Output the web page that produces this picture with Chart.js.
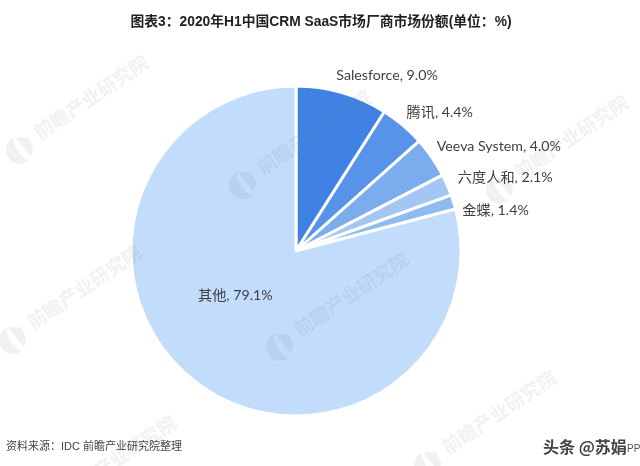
<!DOCTYPE html>
<html><head><meta charset="utf-8">
<style>html,body{margin:0;padding:0;background:#fff}#w{position:relative;width:640px;height:466px}canvas{display:block}</style>
<script src="https://cdn.jsdelivr.net/npm/chart.js@4"></script></head>
<body><div id="w"><canvas id="c" width="640" height="466"></canvas></div>
<script>
const vendors = ['Salesforce','腾讯','Veeva System','六度人和','金蝶','其他'];
const shares = [9.0,4.4,4.0,2.1,1.4,79.1];
const sliceColors = ['#3F82E3','#5793E8','#7BADEE','#A3C6F5','#8FBBF1','#C2DCFB'];
const chartTitle = '图表3：2020年H1中国CRM SaaS市场厂商市场份额(单位：%)';
const sourceNote = '资料来源：IDC 前瞻产业研究院整理';
const markText = '头条 @苏娟';
const markTail = 'PP';
const waterText = '前瞻产业研究院';

const CJK = '"Noto Sans CJK SC"';
const labelNudges = [[45,-17],[37,-13],[67,-11],[58,-8],[42,8],[40,-86]];
const waterSpots = [[20,150],[243,185],[500,190],[13,340],[280,347],[48,510],[428,465]];

const overlay = {
  id:'overlay',
  afterDatasetsDraw(chart){
    const ctx = chart.ctx;
    ctx.save();
    // watermarks
    for(const [x,y] of waterSpots){
      ctx.save();
      ctx.translate(x,y);
      ctx.rotate(-34*Math.PI/180);
      ctx.fillStyle='rgba(110,125,150,0.11)';
      // logo: crescent plus shield
      ctx.beginPath();ctx.arc(0,0,14,95*Math.PI/180,275*Math.PI/180);ctx.quadraticCurveTo(-6,0,1,14);ctx.fill();
      ctx.beginPath();ctx.moveTo(3,-13);ctx.lineTo(14,-6);ctx.lineTo(12,6);ctx.lineTo(5,12);ctx.closePath();ctx.fill();
      ctx.font='bold 19px '+CJK;
      ctx.textAlign='left';ctx.textBaseline='middle';
      ctx.fillText(waterText,22,-4);
      ctx.restore();
    }
    // slice labels
    const arcs = chart.getDatasetMeta(0).data;
    ctx.font='14.2px Lato, '+CJK;
    ctx.fillStyle='#404040';
    ctx.textAlign='center';ctx.textBaseline='middle';
    arcs.forEach((a,i)=>{
      const m=(a.startAngle+a.endAngle)/2;
      const ex=a.x+a.outerRadius*Math.cos(m), ey=a.y+a.outerRadius*Math.sin(m);
      ctx.fillText(vendors[i]+', '+shares[i].toFixed(1)+'%',ex+labelNudges[i][0],ey+labelNudges[i][1]);
    });
    // title, source, mark
    ctx.fillStyle='#222';
    ctx.font='bold 13.8px "Liberation Sans", '+CJK;
    ctx.fillText(chartTitle,321,22);
    ctx.textAlign='left';
    ctx.fillStyle='#444';
    ctx.font='11px "Liberation Sans", '+CJK;
    ctx.fillText(sourceNote,6,447);
    ctx.fillStyle='#444';
    ctx.font='bold 16px '+CJK;
    ctx.fillText(markText,543,447);
    ctx.fillStyle='#555';
    ctx.font='10px "Liberation Sans"';
    ctx.fillText(markTail,627,449);
    ctx.restore();
  }
};

new Chart(document.getElementById('c'),{
  type:'pie',
  data:{labels:vendors,datasets:[{data:shares,backgroundColor:sliceColors,borderColor:'#fff',borderWidth:3,borderAlign:'center'}]},
  options:{
    responsive:false,animation:false,
    radius:165,
    layout:{padding:{top:36,right:48,left:0,bottom:0}},
    plugins:{legend:{display:false},tooltip:{enabled:false},title:{display:false}}
  },
  plugins:[overlay]
});
</script></body></html>
